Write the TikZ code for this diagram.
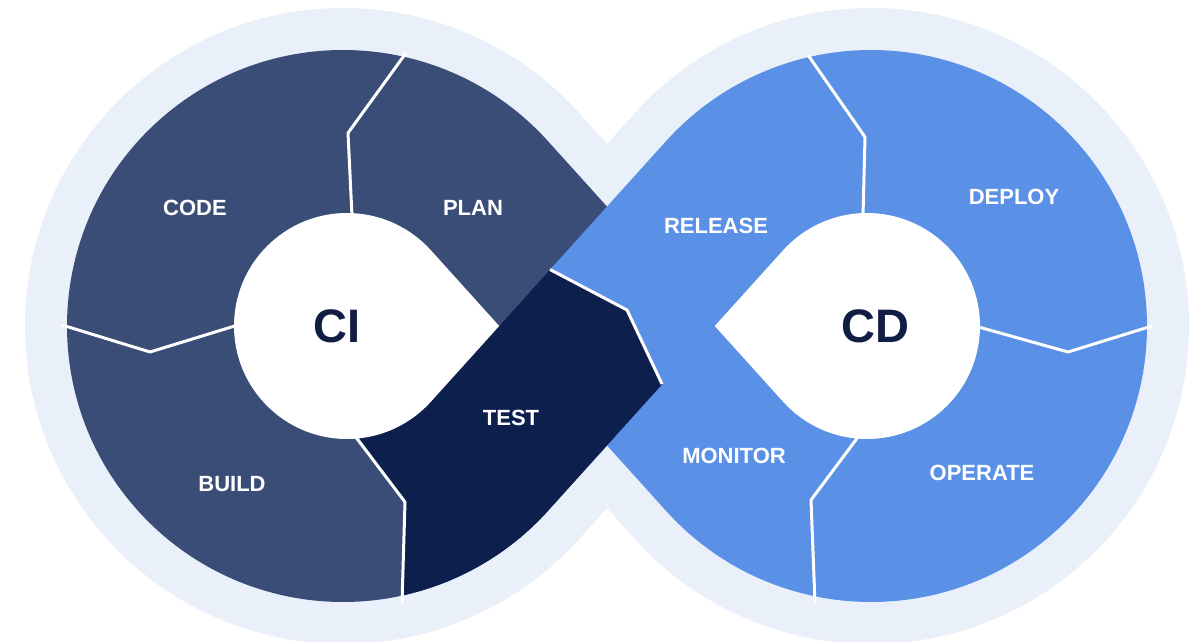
\documentclass[tikz,border=0pt]{standalone}
\usepackage{fontspec}
\setmainfont{Liberation Sans}

\definecolor{halo}{RGB}{234,240,250}
\definecolor{ciblue}{RGB}{58,77,118}
\definecolor{testblue}{RGB}{13,31,77}
\definecolor{cdblue}{RGB}{90,144,230}
\definecolor{textnavy}{RGB}{16,30,68}

\begin{document}
\begin{tikzpicture}[x=1pt,y=1pt,
  stage/.style={text=white,font=\fontsize{22}{26}\selectfont\bfseries},
  loopname/.style={text=textnavy,font=\fontsize{47}{52}\selectfont\bfseries},
  divider/.style={white,line width=3pt,line join=round}]

\useasboundingbox (0,0) rectangle (1202,641);
\fill[white] (0,0) rectangle (1202,641);

% Centres of the loops and the tips where the band crosses
\coordinate (outerL) at (343,315);
\coordinate (innerL) at (347,315);
\coordinate (outerR) at (871,315);
\coordinate (innerR) at (867,315);
\coordinate (tipL) at (499.2,315);
\coordinate (tipR) at (714.8,315);

% Light halo round the whole loop
\path[fill=halo,draw=halo,line width=84pt,line join=round]
  (tipR) -- ([shift={(42.04:276)}]outerL) arc[start angle=42.04,end angle=317.96,radius=276] -- cycle
  (tipL) -- ([shift={(-137.96:276)}]outerR) arc[start angle=-137.96,end angle=137.96,radius=276] -- cycle;

% CI loop
\fill[ciblue] (tipR) -- ([shift={(42.04:276)}]outerL)
  arc[start angle=42.04,end angle=317.96,radius=276] -- cycle;

% CD loop, over the crossing
\fill[cdblue] (tipL) -- ([shift={(-137.96:276)}]outerR)
  arc[start angle=-137.96,end angle=137.96,radius=276] -- cycle;

% Test stage runs on top through the middle
\begin{scope}
  \clip (550,371.5) -- (627,331) -- (662,257) -- (760,170) -- (600,-40)
    -- (402,-40) -- (402,56) -- (405,139) -- (355,209) -- (innerL) -- (tipL) -- cycle;
  \fill[testblue] (tipR) -- ([shift={(42.04:276)}]outerL)
    arc[start angle=42.04,end angle=317.96,radius=276] -- cycle;
\end{scope}

% Holes of the two loops
\fill[white] (tipL) -- ([shift={(42.04:113)}]innerL)
  arc[start angle=42.04,end angle=317.96,radius=113] -- cycle;
\fill[white] (tipR) -- ([shift={(-137.96:113)}]innerR)
  arc[start angle=-137.96,end angle=137.96,radius=113] -- cycle;

% Dividers between stages
\draw[divider] (406,588) -- (348,508) -- (352,425);   % code | plan
\draw[divider] (62,316) -- (150,289) -- (238,316);    % code | build
\draw[divider] (355,205) -- (405,139) -- (402,38);    % build | test
\draw[divider] (550,371.5) -- (627,331) -- (662,257); % test | release
\draw[divider] (808,586) -- (865,504) -- (863,425);   % release | deploy
\draw[divider] (975,315) -- (1068,289) -- (1152,315); % deploy | operate
\draw[divider] (861,208) -- (811,141) -- (815,38);    % operate | monitor

% Stage labels
\node[stage] (code) at (195,433) {CODE};
\node[stage] (plan) at (473,433) {PLAN};
\node[stage] (build) at (232,157) {BUILD};
\node[stage] (test) at (511,223) {TEST};
\node[stage] (release) at (716,415) {RELEASE};
\node[stage] (deploy) at (1014,444) {DEPLOY};
\node[stage] (monitor) at (734,185) {MONITOR};
\node[stage] (operate) at (982,168) {OPERATE};

% Loop names
\node[loopname] (ci) at (337,315) {CI};
\node[loopname] (cd) at (875,315) {CD};

\end{tikzpicture}
\end{document}
